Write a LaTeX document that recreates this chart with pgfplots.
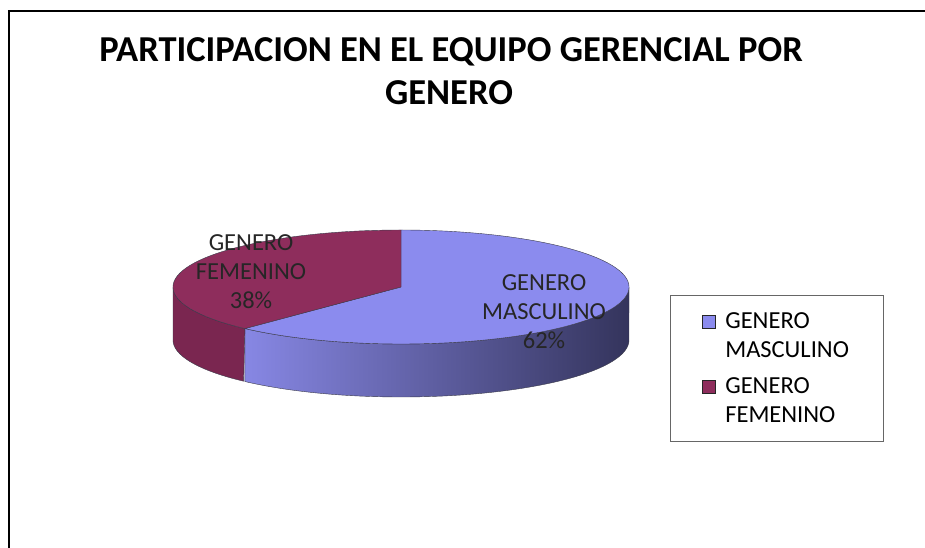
\documentclass[border=0pt]{standalone}
\usepackage{pgfplots}
\pgfplotsset{compat=1.18}
\usepackage{pgfplotstable}
\usepackage{fontspec}
\setmainfont{Carlito}
\definecolor{mascTop}{HTML}{8B8BEE}
\definecolor{mascLight}{HTML}{8787E4}
\definecolor{mascDark}{HTML}{34345C}
\definecolor{femTop}{HTML}{8E2D5C}
\definecolor{femSide}{HTML}{7A2650}
\definecolor{edge}{HTML}{3A3A4A}

\pgfplotstableread{
genero valor
Masculino 62
Femenino 38
}\pietable
\pgfplotstablegetelem{0}{valor}\of\pietable \let\vm\pgfplotsretval
\pgfplotstablegetelem{1}{valor}\of\pietable \let\vf\pgfplotsretval
\pgfmathsetmacro\aB{90-3.6*\vm}
\pgfmathsetmacro\aBp{\aB+360}
\def\cx{401}\def\cy{261}\def\rx{228}\def\ry{57}\def\dep{53}

\begin{document}%
\begin{tikzpicture}
\begin{axis}[width=925pt,height=548pt,scale only axis,
  xmin=0,xmax=925,ymin=0,ymax=548,hide axis,clip=false,
  legend style={at={(axis cs:670,253)},anchor=north west,
    draw=black!60, line width=0.8pt,
    font=\fontsize{24.5}{29}\selectfont,
    cells={anchor=west, align=left},
    inner xsep=32pt, inner ysep=15pt, row sep=15pt, column sep=7pt},
  legend image code/.code={\draw[#1,draw=black!85,line width=0.9pt] (0pt,7.5pt) rectangle (13pt,20.5pt);},
]
\coordinate (bl) at (axis cs:0,0);
\coordinate (tr) at (axis cs:925,548);
% border
\addplot[forget plot, black, line width=2.4pt] coordinates {(9,0) (9,537)};
\addplot[forget plot, black, line width=2.4pt] coordinates {(7.8,537) (925,537)};
% side of masculine slice
\addplot[forget plot, left color=mascLight, right color=mascDark, draw=edge, line width=0.4pt,
  domain=0:2, samples=401, variable=\t]
  ({\cx+\rx*cos(ifthenelse(\t<=1.0001, \aB+(0-\aB)*\t, 0-(0-\aB)*(\t-1)))},
   {\cy+\ry*sin(ifthenelse(\t<=1.0001, \aB+(0-\aB)*\t, 0-(0-\aB)*(\t-1))) - ifthenelse(\t<=1.0001,0,\dep)}) -- cycle;
% side of femenine slice
\addplot[forget plot, fill=femSide, draw=edge, line width=0.4pt,
  domain=0:2, samples=201, variable=\t]
  ({\cx+\rx*cos(ifthenelse(\t<=1.0001, 180+(\aBp-180)*\t, \aBp-(\aBp-180)*(\t-1)))},
   {\cy+\ry*sin(ifthenelse(\t<=1.0001, 180+(\aBp-180)*\t, \aBp-(\aBp-180)*(\t-1))) - ifthenelse(\t<=1.0001,0,\dep)}) -- cycle;
% top faces
\addplot[forget plot, fill=mascTop, draw=edge, line width=0.4pt, domain=\aB:90, samples=200, variable=\t]
  ({\cx+\rx*cos(\t)},{\cy+\ry*sin(\t)}) -- (axis cs:\cx,\cy) -- cycle;
\addplot[forget plot, fill=femTop, draw=edge, line width=0.4pt, domain=90:\aBp, samples=150, variable=\t]
  ({\cx+\rx*cos(\t)},{\cy+\ry*sin(\t)}) -- (axis cs:\cx,\cy) -- cycle;
% legend
\addlegendimage{fill=mascTop}
\addlegendentry{GENERO\\MASCULINO}
\addlegendimage{fill=femTop}
\addlegendentry{GENERO\\FEMENINO}
% labels
\node[align=center, font=\fontsize{24.5}{29}\selectfont, text=black!85] at (axis cs:251,276) {GENERO\\FEMENINO\\\vf\%};
\node[align=center, font=\fontsize{24.5}{29}\selectfont, text=black!85] at (axis cs:544,236) {GENERO\\MASCULINO\\\vm\%};
% title
\node[anchor=base, font=\fontsize{36.5}{41}\selectfont\bfseries] at (axis cs:451,486) {PARTICIPACION EN EL EQUIPO GERENCIAL POR};
\node[anchor=base, font=\fontsize{36.5}{41}\selectfont\bfseries] at (axis cs:449,443) {GENERO};
\end{axis}
\pgfresetboundingbox
\path[use as bounding box] (bl) rectangle (tr);
\end{tikzpicture}%
\end{document}
